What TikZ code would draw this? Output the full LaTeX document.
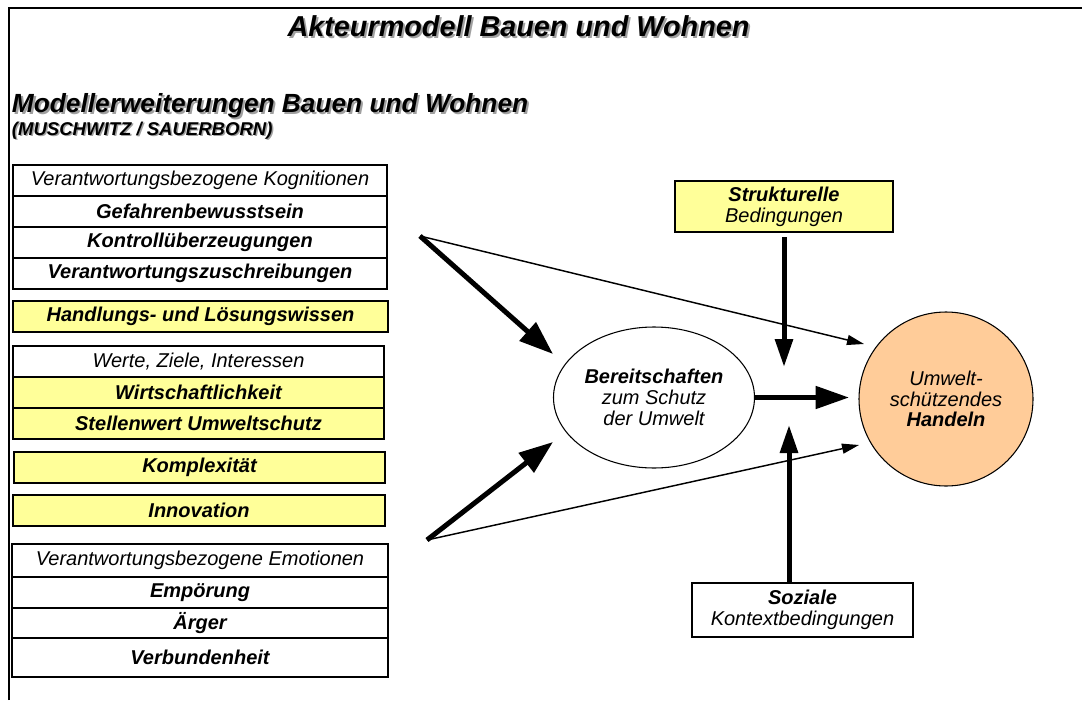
\documentclass[tikz,border=0pt]{standalone}
\usepackage{fontspec}
\setmainfont{Liberation Sans}
\usetikzlibrary{arrows.meta,shapes.geometric,shadows}
\definecolor{paleyellow}{HTML}{FFFF99}
\definecolor{peach}{HTML}{FFCC99}
\definecolor{shadowgray}{HTML}{A0A0A0}
\definecolor{boxshade}{HTML}{B8B8B8}
\begin{document}
\begin{tikzpicture}[x=0.75pt,y=-0.75pt,
  every node/.style={inner sep=0pt,outer sep=0pt},
  body/.style={font=\fontsize{15}{15.5}\selectfont},
  cell/.style={body,draw=black,line width=1pt,minimum height=23.25pt},
  hint/.style={cell,font=\fontsize{15}{15.5}\selectfont\itshape},
  item/.style={cell,font=\fontsize{15}{15.5}\selectfont\bfseries\itshape},
  yellowbox/.style={fill=paleyellow,drop shadow={shadow xshift=0.9pt,shadow yshift=-0.9pt,fill=boxshade,opacity=1}},
  headline/.style={font=\fontsize{21.6}{24}\selectfont\bfseries\itshape},
  subline/.style={font=\fontsize{19.7}{22}\selectfont\bfseries\itshape},
  authorline/.style={font=\fontsize{13.9}{16}\selectfont\bfseries\itshape},
  thick arrow/.style={line width=3.75pt,-{Triangle[length=25.5pt,width=18pt]}},
  post arrow/.style={line width=3.75pt,-{Triangle[length=21pt,width=13pt]}},
  main arrow/.style={line width=3.6pt,-{Triangle[length=25pt,width=16.5pt]}},
  thin arrow/.style={line width=1.1pt,-{Triangle[length=12.75pt,width=7.5pt]}}]

\useasboundingbox (0,0) rectangle (1082,700);

% frame
\draw[line width=1.6pt] (9,700) -- (9,8) -- (1082,8);

% headings with drop shadow
\node[headline,text=shadowgray,anchor=base] (titleshade) at (520.5,38) {Akteurmodell Bauen und Wohnen};
\node[headline,anchor=base] (title) at (518.5,36) {Akteurmodell Bauen und Wohnen};
\node[subline,text=shadowgray,anchor=base west] (subshade) at (14,114) {Modellerweiterungen Bauen und Wohnen};
\node[subline,anchor=base west] (sub) at (12,112) {Modellerweiterungen Bauen und Wohnen};
\node[authorline,text=shadowgray,anchor=base west] (authshade) at (13.5,136.5) {(MUSCHWITZ / SAUERBORN)};
\node[authorline,anchor=base west] (auth) at (12,135) {(MUSCHWITZ / SAUERBORN)};

% cognitions
\node[hint,minimum width=280.5pt] (kog0) at (200,180.5) {Verantwortungsbezogene Kognitionen};
\node[item,minimum width=280.5pt] (kog1) at (200,211.5) {Gefahrenbewusstsein};
\node[item,minimum width=280.5pt] (kog2) at (200,242.5) {Kontrollüberzeugungen};
\node[item,minimum width=280.5pt] (kog3) at (200,273.5) {Verantwortungszuschreibungen};

\node[item,yellowbox,minimum width=281.25pt] (wissen) at (200.5,316.5) {Handlungs- und Lösungswissen};

% values
\node[hint,minimum width=278.25pt] (wert0) at (198.5,361.5) {Werte, Ziele, Interessen};
\node[item,fill=paleyellow,minimum width=278.25pt] (wert1) at (198.5,392.5) {Wirtschaftlichkeit};
\node[item,fill=paleyellow,minimum width=278.25pt] (wert2) at (198.5,423.5) {Stellenwert Umweltschutz};

\node[item,yellowbox,minimum width=278.25pt] (komplex) at (199.5,467.5) {Komplexität};
\node[item,yellowbox,minimum width=279pt] (innov) at (199,510.5) {Innovation};

% emotions
\node[hint,minimum width=282pt,minimum height=24.75pt] (emo0) at (200,560.5) {Verantwortungsbezogene Emotionen};
\node[item,minimum width=282pt] (emo1) at (200,592.5) {Empörung};
\node[item,minimum width=282pt,minimum height=22.5pt] (emo2) at (200,623) {Ärger};
\node[item,minimum width=282pt,minimum height=29.25pt] (emo3) at (200,657.5) {Verbundenheit};

% model core
\node[draw=black,line width=0.8pt,ellipse,minimum width=150.75pt,minimum height=105.75pt,
      body,align=center] (bereit) at (654,397.5)
  {\textbf{\itshape Bereitschaften}\\\itshape zum Schutz\\\itshape der Umwelt};
\node[draw=black,line width=0.8pt,circle,fill=peach,minimum size=130.5pt,
      body,align=center] (handeln) at (946,399)
  {\itshape Umwelt-\\\itshape schützendes\\\textbf{\itshape Handeln}};

\node[draw=black,line width=1pt,yellowbox,minimum width=163.5pt,minimum height=38.25pt,
      body,align=center] (strukt) at (784,206.5)
  {\textbf{\itshape Strukturelle}\\\itshape Bedingungen};
\node[draw=black,line width=1pt,minimum width=165.75pt,minimum height=40.5pt,
      body,align=center] (sozial) at (802.5,610)
  {\textbf{\itshape Soziale}\\\itshape Kontextbedingungen};

% connector ends
\coordinate (kogout) at (420,236);
\coordinate (emoout) at (427,540);
\coordinate (tipA) at (553,354);
\coordinate (tipB) at (864,344);
\coordinate (tipC) at (553,442);
\coordinate (tipD) at (859,445);
\coordinate (tipS) at (784,367);
\coordinate (tipK) at (789,425);
\coordinate (tipH) at (849,397.5);

% connectors
\draw[thick arrow] (kogout) -- (tipA);
\draw[thin arrow] (kogout) -- (tipB);
\draw[thick arrow] (emoout) -- (tipC);
\draw[thin arrow] (emoout) -- (tipD);
\draw[post arrow,shorten <=4pt] (strukt.south) -- (tipS);
\draw[post arrow] (tipK |- sozial.north) -- (tipK);
\draw[main arrow] (bereit.east) -- (tipH);

\end{tikzpicture}
\end{document}
